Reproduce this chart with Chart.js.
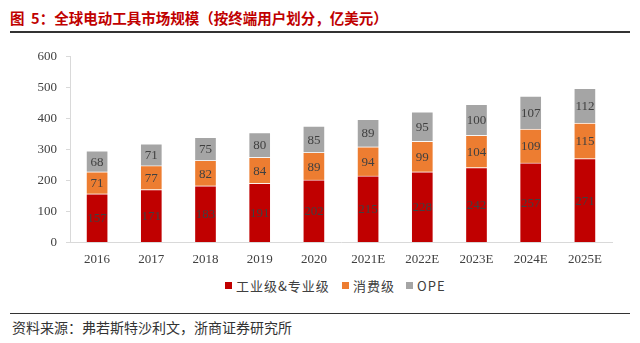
<!DOCTYPE html>
<html>
<head>
<meta charset="utf-8">
<script src="https://cdn.jsdelivr.net/npm/chart.js@4"></script>
<style>
  html, body { margin: 0; padding: 0; background: #fff; }
  #wrap { position: relative; width: 640px; height: 343px; overflow: hidden; }
  #title {
    position: absolute; left: 10px; top: 8px;
    font: bold 14.5px "Noto Sans CJK SC", sans-serif; color: #c00000;
    line-height: 20px; white-space: pre;
  }
  #rule-top { position: absolute; left: 10px; top: 31px; width: 620px; height: 2px; background: #333; }
  #rule-bot { position: absolute; left: 10px; top: 313px; width: 620px; height: 1px; background: #333; }
  #source {
    position: absolute; left: 12px; top: 317px;
    font: 14px "Noto Sans CJK SC", sans-serif; color: #333;
    line-height: 20px; white-space: nowrap;
  }
  #chartBox { position: absolute; left: 0; top: 40px; width: 640px; height: 236px; }
  .leg { position: absolute; top: 276px; height: 18px; display: flex; align-items: center;
         font: 13px "Noto Sans CJK SC", sans-serif; color: #404040; letter-spacing: 1px; white-space: nowrap; }
  .leg i { display: inline-block; width: 7px; height: 7px; margin-right: 4px; }
</style>
</head>
<body>
<div id="wrap">
  <div id="title">图  5：全球电动工具市场规模（按终端用户划分，亿美元）</div>
  <div id="rule-top"></div>
  <div id="chartBox"><canvas id="c"></canvas></div>
  <div id="legend"></div>
  <div id="rule-bot"></div>
  <div id="source">资料来源：弗若斯特沙利文，浙商证券研究所</div>
</div>
<script>
// categories and series (亿美元)
const years = ['2016', '2017', '2018', '2019', '2020', '2021E', '2022E', '2023E', '2024E', '2025E'];
const industrial = [157, 171, 183, 191, 202, 215, 228, 242, 257, 271];
const consumer = [71, 77, 82, 84, 89, 94, 99, 104, 109, 115];
const ope = [68, 71, 75, 80, 85, 89, 95, 100, 107, 112];
const yTicks = [0, 100, 200, 300, 400, 500, 600];
const seriesNames = ['工业级&专业级', '消费级', 'OPE'];
const seriesColors = ['#c00000', '#ed7d31', '#a5a5a5'];

const serif = '"Liberation Serif", "Times New Roman", serif';

// Draw each segment's value in the middle of the bar
const barLabels = {
  id: 'barLabels',
  afterDatasetsDraw(chart) {
    const ctx = chart.ctx;
    ctx.save();
    ctx.font = '13px ' + serif;
    ctx.fillStyle = '#404040';
    ctx.textAlign = 'center';
    ctx.textBaseline = 'middle';
    chart.data.datasets.forEach((ds, di) => {
      const meta = chart.getDatasetMeta(di);
      meta.data.forEach((bar, i) => {
        const mid = (bar.y + bar.base) / 2;
        ctx.fillText(String(ds.data[i]), bar.x, mid + 1);
      });
    });
    ctx.restore();
  },
};

const seg = (label, data, color) => ({
  label,
  data,
  backgroundColor: color,
  borderColor: 'rgba(255,255,255,0.45)',
  borderWidth: 1,
  barThickness: 22,
  stack: 's',
});

const chart = new Chart(document.getElementById('c'), {
  type: 'bar',
  data: {
    labels: years,
    datasets: [
      seg(seriesNames[0], industrial, seriesColors[0]),
      seg(seriesNames[1], consumer, seriesColors[1]),
      seg(seriesNames[2], ope, seriesColors[2]),
    ],
  },
  options: {
    responsive: true,
    maintainAspectRatio: false,
    animation: false,
    layout: { padding: { left: 0, right: 28, top: 16, bottom: 0 } },
    scales: {
      x: {
        stacked: true,
        grid: { display: false, drawTicks: false },
        border: { color: '#d9d9d9', width: 1 },
        ticks: { color: '#404040', font: { family: serif, size: 13 }, padding: 9 },
      },
      y: {
        stacked: true,
        min: 0,
        max: 600,
        afterBuildTicks: (scale) => { scale.ticks = yTicks.map(v => ({ value: v })); },
        afterFit: (scale) => { scale.width = 70; },
        grid: { display: true, drawOnChartArea: false, tickLength: 4, color: '#d9d9d9' },
        border: { color: '#d9d9d9', width: 1 },
        ticks: { color: '#404040', font: { family: serif, size: 13 }, padding: 9 },
      },
    },
    plugins: {
      legend: { display: false },
      tooltip: { enabled: false },
    },
  },
  plugins: [barLabels],
});

// legend built from the chart's datasets
const legendX = [225, 342, 406];
const legendEl = document.getElementById('legend');
chart.data.datasets.forEach((ds, i) => {
  const item = document.createElement('div');
  item.className = 'leg';
  item.style.left = legendX[i] + 'px';
  item.innerHTML = '<i style="background:' + ds.backgroundColor + '"></i>' + ds.label;
  legendEl.appendChild(item);
});
</script>
</body>
</html>
